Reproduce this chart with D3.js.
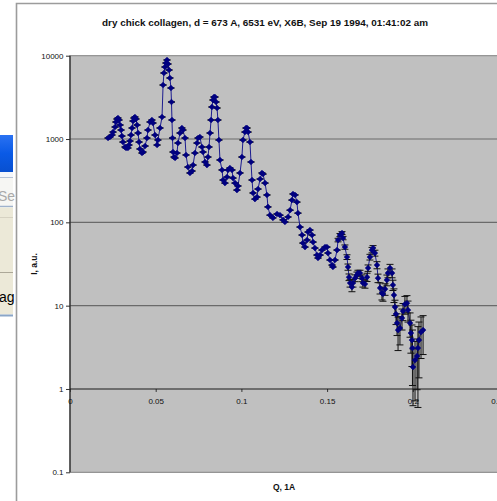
<!DOCTYPE html>
<html><head><meta charset="utf-8">
<script src="https://cdn.jsdelivr.net/npm/d3@7"></script>
<style>body{margin:0;background:#fff;overflow:hidden} svg{display:block;}</style>
</head><body><svg id="c" width="497" height="501"></svg>
<script>
const title = "dry chick collagen, d = 673 A, 6531 eV, X6B, Sep 19 1994, 01:41:02 am";
const xLabel = "Q, 1A";
const yLabel = "I, a.u.";
const xTicks = [0, 0.05, 0.1, 0.15, 0.2, 0.25];
const xTickLabels = ["0", "0.05", "0.1", "0.15", "0.2", "0.25"];
const yTicks = [0.1, 1, 10, 100, 1000, 10000];
const yTickLabels = ["0.1", "1", "10", "100", "1000", "10000"];
const gridValues = [10, 100, 1000];

const q = [
.0222,.0233,.0245,.0251,.0263,.0268,.0274,.0280,.0286,.0292,
.0298,.0303,.0309,.0321,.0327,.0338,.0344,.0350,.0356,.0362,
.0368,.0373,.0379,.0385,.0391,.0397,.0403,.0408,.0420,.0426,
.0438,.0449,.0455,.0467,.0478,.0484,.0496,.0508,.0513,.0525,
.0537,.0543,.0548,.0554,.0560,.0566,.0572,.0578,.0583,.0589,
.0592,.0595,.0598,.0601,.0607,.0613,.0624,.0630,.0642,.0653,
.0659,.0671,.0677,.0688,.0700,.0712,.0718,.0729,.0741,.0747,
.0758,.0770,.0776,.0788,.0799,.0805,.0811,.0817,.0823,.0828,
.0834,.0840,.0846,.0852,.0858,.0863,.0869,.0875,.0887,.0893,
.0904,.0916,.0922,.0933,.0945,.0951,.0963,.0974,.0980,.0992,
.1003,.1009,.1021,.1027,.1033,.1039,.1050,.1056,.1062,.1068,
.1079,.1091,.1097,.1109,.1120,.1126,.1138,.1149,.1155,.1167,
.1184,.1208,.1225,.1243,.1254,.1272,.1284,.1295,.1301,.1313,
.1324,.1330,.1342,.1354,.1359,.1371,.1383,.1389,.1400,.1412,
.1418,.1429,.1441,.1447,.1459,.1470,.1488,.1499,.1505,.1517,
.1529,.1534,.1546,.1558,.1564,.1575,.1587,.1593,.1604,.1616,
.1622,.1628,.1634,.1645,.1651,.1663,.1674,.1680,.1692,.1704,
.1709,.1721,.1733,.1739,.1750,.1762,.1768,.1779,.1791,.1797,
.1809,.1820,.1826,.1838,.1849,.1855,.1867,.1879,.1884,.1890,
.1896,.1902,.1908,.1914,.1925,.1937,.1943,.1954,.1966,.1972,
.1984,.1989,.1995,.1998,.2001,.2013,.2025,.2030,.2036,.2048,
.2060];

const intensity = [
1028,1057,1117,1213,1394,1600,1739,1787,1691,1473,
1282,1086,920,802,780,780,847,946,1117,1356,
1645,1787,1837,1739,1473,1180,920,759,679,698,
824,1028,1282,1600,1691,1556,1117,847,973,1356,
1837,4449,6199,7316,8172,8880,7952,6735,5400,4095,
2781,1691,1028,698,608,592,679,895,1180,1356,
1282,1028,643,461,391,413,487,679,895,1028,
1057,802,698,530,487,608,802,1180,1691,2423,
2939,3193,3193,2781,2356,1691,973,560,425,322,
296,350,425,449,425,340,296,244,273,391,
608,973,1213,1356,1356,1213,920,530,322,225,
190,201,251,331,391,380,296,213,153,122,
113,126,122,107,101,116,140,185,219,213,
175,129,87.8,70.4,56.4,50.5,61.3,76.5,80.8,70.4,
58.0,49.1,40.5,37.3,40.5,46.5,50.5,50.5,42.8,35.3,
30.7,29.1,35.3,46.5,61.3,70.4,74.4,64.8,50.5,38.3,
29.1,22.0,18.7,16.7,18.7,21.4,23.3,24.6,24.6,21.4,
18.7,18.2,22.0,28.3,38.3,46.5,49.1,42.8,30.7,21.4,
16.3,14.2,13.8,15.8,20.3,24.6,28.3,24.6,17.7,13.4,
9.62,7.93,6.18,5.09,5.38,7.10,8.61,10.4,10.7,8.85,
6.18,4.69,3.86,3.10,1.83,2.22,2.48,3.10,3.86,4.82,
5.09];

// error bars (absolute) for the tail of the series, starting at index errStart
const errStart = 154;
const errTail = [
3,3,3,3,3,2.5,2.5,2,2,2,
2,2,2,2,2,2,2,2,2.5,2.5,
3,3.5,3.5,3.5,3,2.5,2.5,2.5,2.5,2.5,
3,3,3,3,2.5,2.5,2,2,1.8,2.2,
2,2,2,2.5,2.5,2.5,2,2,2,2,
1.2,1.5,1.5,2.5,2.5,2.5,2.5];

const data = q.map((v, i) => ({q: v, I: intensity[i], e: i >= errStart ? errTail[i - errStart] : 0}));

const svg = d3.select("#c");
const FONT = "'Liberation Sans', Arial, sans-serif";

// ---- left dialog fragment (background window) ----
const defs = svg.append("defs");
const g1 = defs.append("linearGradient").attr("id", "blue").attr("x1", 0).attr("y1", 0).attr("x2", 0).attr("y2", 1);
g1.append("stop").attr("offset", "0").attr("stop-color", "#2a72f2");
g1.append("stop").attr("offset", "0.5").attr("stop-color", "#0a5ae6");
g1.append("stop").attr("offset", "1").attr("stop-color", "#0850d0");
const dlg = svg.append("g");
dlg.append("rect").attr("x", 0).attr("y", 135).attr("width", 13).attr("height", 37).attr("fill", "url(#blue)");
dlg.append("rect").attr("x", 0).attr("y", 172).attr("width", 13).attr("height", 6).attr("fill", "#f4f6fa");
dlg.append("line").attr("x1", 0).attr("x2", 13).attr("y1", 177.5).attr("y2", 177.5).attr("stroke", "#b5c2d6");
dlg.append("rect").attr("x", 0).attr("y", 178).attr("width", 13).attr("height", 28).attr("fill", "#f6f6f3");
dlg.append("text").attr("x", -2).attr("y", 201).attr("font-family", FONT).attr("font-size", 14).attr("fill", "#a9a9a9").text("Se");
dlg.append("line").attr("x1", 0).attr("x2", 13).attr("y1", 206.5).attr("y2", 206.5).attr("stroke", "#9fb2cc").attr("stroke-width", 1.5);
dlg.append("rect").attr("x", 0).attr("y", 207.5).attr("width", 13).attr("height", 107).attr("fill", "#ece9d8");
dlg.append("line").attr("x1", 0).attr("x2", 13).attr("y1", 217.5).attr("y2", 217.5).attr("stroke", "#d6d2c2");
dlg.append("line").attr("x1", 0).attr("x2", 13).attr("y1", 272.5).attr("y2", 272.5).attr("stroke", "#aca898");
dlg.append("text").attr("x", -1).attr("y", 302).attr("font-family", FONT).attr("font-size", 14).attr("fill", "#000").text("ag");
dlg.append("line").attr("x1", 0).attr("x2", 13).attr("y1", 315.5).attr("y2", 315.5).attr("stroke", "#8aa6c8").attr("stroke-width", 2);

// ---- chart border ----
svg.append("path").attr("d", "M16.5,501 L16.5,3.5 L497,3.5").attr("fill", "none").attr("stroke", "#9c9c9c").attr("stroke-width", 1.6);

// ---- scales ----
const x = d3.scaleLinear().domain([0, 0.25]).range([70, 498.5]);
const y = d3.scaleLog().domain([0.1, 10000]).range([472.3, 55.7]);

// plot area
svg.append("rect").attr("x", x(0)).attr("y", y(10000)).attr("width", x(0.25) - x(0)).attr("height", y(0.1) - y(10000))
  .attr("fill", "#c0c0c0").attr("stroke", "#808080").attr("stroke-width", 1);

// gridlines
svg.append("g").selectAll("line").data(gridValues).join("line")
  .attr("x1", x(0)).attr("x2", x(0.25)).attr("y1", d => y(d)).attr("y2", d => y(d))
  .attr("stroke", "#6a6a6a").attr("stroke-width", 1.2);

// y axis
const yAxis = svg.append("g").attr("transform", `translate(${x(0)},0)`)
  .call(d3.axisLeft(y).tickValues(yTicks).tickFormat((d, i) => yTickLabels[i]).tickSize(4).tickPadding(2.5).tickSizeOuter(0));
yAxis.select(".domain").remove();
yAxis.selectAll("text").attr("font-family", FONT).attr("font-size", 8).attr("fill", "#111");
yAxis.selectAll(".tick line").attr("stroke", "#333");
svg.append("line").attr("x1", x(0)).attr("x2", x(0)).attr("y1", y(10000)).attr("y2", y(0.1)).attr("stroke", "#222").attr("stroke-width", 1.2);

// x axis crossing at 1
const xAxis = svg.append("g").attr("transform", `translate(0,${y(1)})`)
  .call(d3.axisBottom(x).tickValues(xTicks).tickFormat((d, i) => xTickLabels[i]).tickSize(3).tickPadding(6.5).tickSizeOuter(0));
xAxis.select(".domain").remove();
xAxis.selectAll("text").attr("font-family", FONT).attr("font-size", 8).attr("fill", "#111");
xAxis.selectAll(".tick line").attr("stroke", "#333");
svg.append("line").attr("x1", x(0)).attr("x2", x(0.25)).attr("y1", y(1)).attr("y2", y(1)).attr("stroke", "#1a1a1a").attr("stroke-width", 1.2);

// series line
const line = d3.line().x(d => x(d.q)).y(d => y(d.I));
svg.append("path").datum(data).attr("d", line).attr("fill", "none").attr("stroke", "#1c1c90").attr("stroke-width", 1);

// error bars
const eb = svg.append("g").attr("stroke", "#111").attr("stroke-width", 1).attr("fill", "none");
const cap = 3.5;
data.forEach(d => {
  const cx = x(d.q);
  const hi = y(d.I + d.e);
  const loV = d.I - d.e;
  const lo = loV > 0.1 ? y(loV) : y(0.1);
  eb.append("line").attr("x1", cx).attr("x2", cx).attr("y1", hi).attr("y2", lo);
  eb.append("line").attr("x1", cx - cap).attr("x2", cx + cap).attr("y1", hi).attr("y2", hi);
  if (loV > 0.1) eb.append("line").attr("x1", cx - cap).attr("x2", cx + cap).attr("y1", lo).attr("y2", lo);
});

// markers (diamonds)
const sym = d3.symbol().type(d3.symbolSquare).size(16);
svg.append("g").selectAll("path").data(data).join("path")
  .attr("d", sym).attr("transform", d => `translate(${x(d.q)},${y(d.I)}) rotate(45)`)
  .attr("fill", "#000080").attr("stroke", "#000080").attr("stroke-width", 0.6);

// titles
svg.append("text").attr("x", 265).attr("y", 26).attr("text-anchor", "middle")
  .attr("font-family", FONT).attr("font-weight", "bold").attr("font-size", 9)
  .attr("textLength", 326).attr("lengthAdjust", "spacingAndGlyphs").attr("fill", "#111").text(title);
svg.append("text").attr("x", 284).attr("y", 490).attr("text-anchor", "middle")
  .attr("font-family", FONT).attr("font-weight", "bold").attr("font-size", 8.5).attr("fill", "#111").text(xLabel);
svg.append("text").attr("transform", "translate(37,264) rotate(-90)").attr("text-anchor", "middle")
  .attr("font-family", FONT).attr("font-weight", "bold").attr("font-size", 8.5).attr("fill", "#111").text(yLabel);
</script></body></html>
